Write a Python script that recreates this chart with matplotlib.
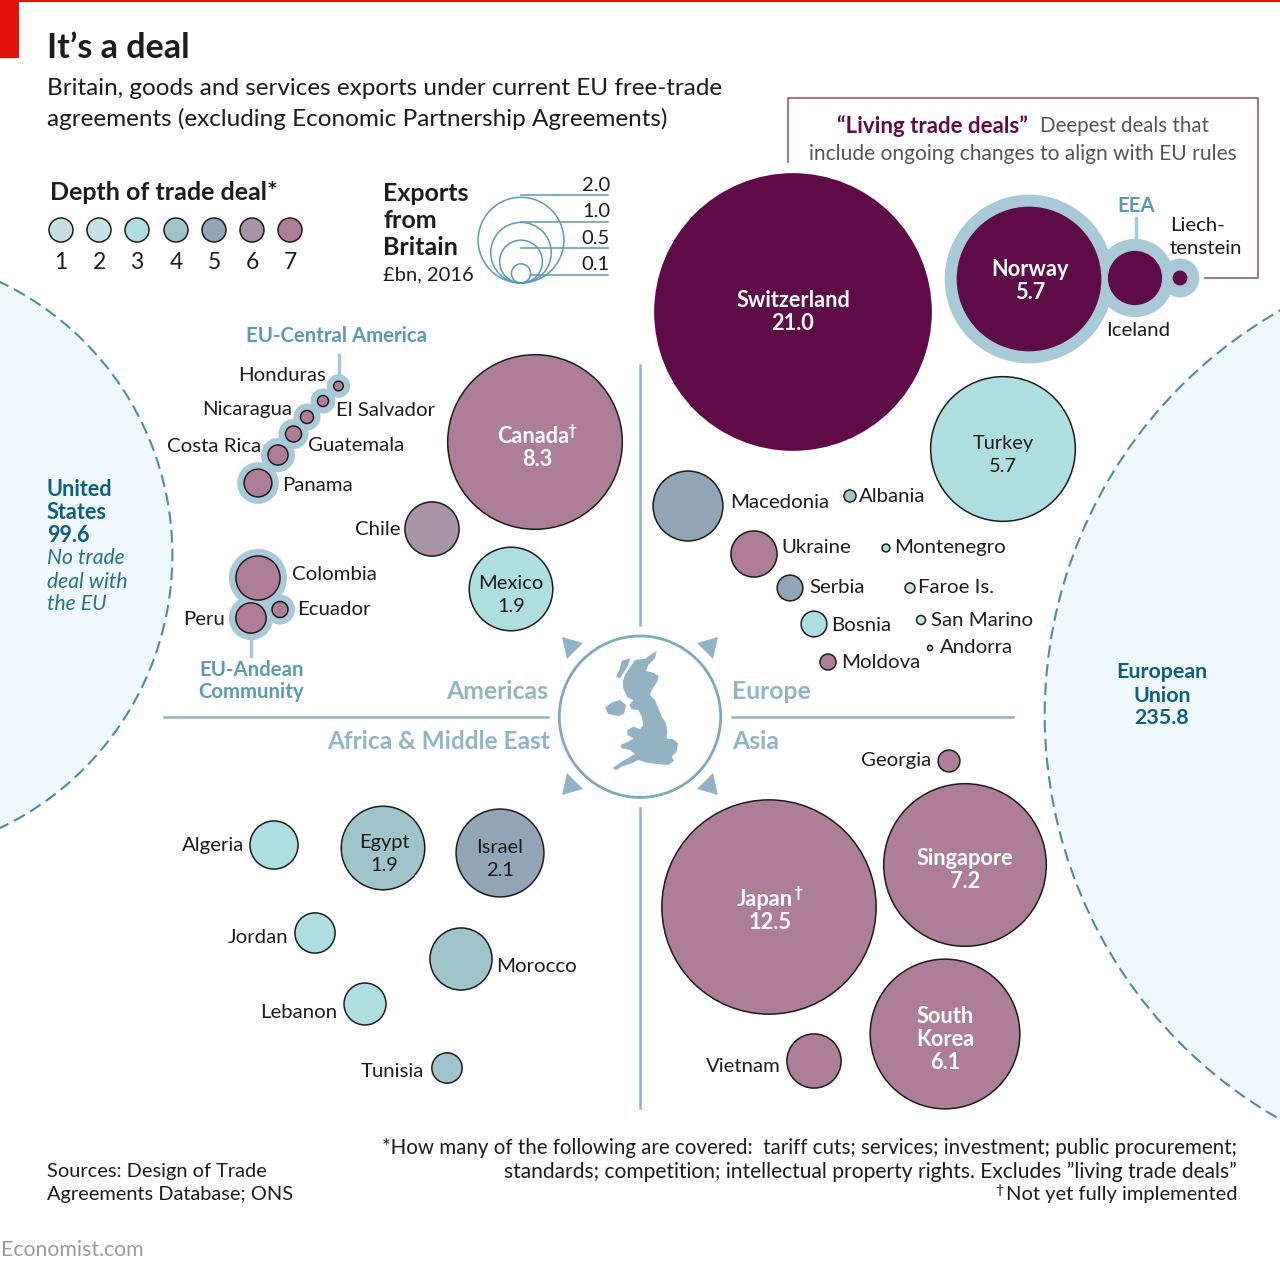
import numpy as np
import matplotlib
matplotlib.use("Agg")
import matplotlib.pyplot as plt
from matplotlib.patches import Circle, Polygon, Rectangle

plt.rcParams['font.family'] = ['Lato', 'DejaVu Sans']

# exports from Britain, GBP bn, 2016 (unlabelled ones)
americas = ["Canada", "Chile", "Mexico"]
americas_val = [8.3, 0.8, 1.9]
americas_depth = [7, 6, 3]

central_america = ["Honduras", "El Salvador", "Nicaragua", "Guatemala", "Costa Rica", "Panama"]
central_america_val = [0.025, 0.033, 0.046, 0.07, 0.11, 0.21]
central_america_depth = [7, 7, 7, 7, 7, 7]

andean = ["Colombia", "Peru", "Ecuador"]
andean_val = [0.53, 0.25, 0.07]
andean_depth = [7, 7, 7]

europe = ["Turkey", "Macedonia", "Albania", "Ukraine", "Montenegro", "Serbia",
          "Faroe Is.", "Bosnia", "San Marino", "Andorra", "Moldova"]
europe_val = [5.7, 1.33, 0.04, 0.58, 0.017, 0.18, 0.027, 0.18, 0.022, 0.007, 0.07]
europe_depth = [3, 5, 4, 7, 3, 5, 2, 3, 2, 2, 7]

asia = ["Georgia", "Japan", "Singapore", "South Korea", "Vietnam"]
asia_val = [0.13, 12.5, 7.2, 6.1, 0.8]
asia_depth = [7, 7, 7, 7, 7]

africa_me = ["Algeria", "Egypt", "Israel", "Jordan", "Morocco", "Lebanon", "Tunisia"]
africa_me_val = [0.63, 1.9, 2.1, 0.44, 1.05, 0.48, 0.25]
africa_me_depth = [3, 4, 5, 3, 4, 3, 4]

living = ["Switzerland", "Norway", "Iceland", "Liechtenstein"]
living_val = [21.0, 5.7, 0.8, 0.06]

no_deal_val = 99.6
eu_val = 235.8
legend_vals = [2.0, 1.0, 0.5, 0.1]
depth_levels = [1, 2, 3, 4, 5, 6, 7]

# layout, in reference pixels
pos = {
    "Canada": (535, 442), "Chile": (432, 529), "Mexico": (511, 589),
    "Honduras": (338.5, 386), "El Salvador": (323, 401), "Nicaragua": (307, 417),
    "Guatemala": (293.5, 434), "Costa Rica": (278, 455), "Panama": (258, 483),
    "Colombia": (258, 578), "Peru": (251, 618), "Ecuador": (280, 609.5),
    "Turkey": (1003, 449), "Macedonia": (688, 506), "Albania": (850, 496),
    "Ukraine": (754, 554), "Montenegro": (886, 548), "Serbia": (790, 588),
    "Faroe Is.": (910, 588), "Bosnia": (814, 624), "San Marino": (921, 620),
    "Andorra": (930, 648), "Moldova": (828, 662),
    "Georgia": (949, 761), "Japan": (769, 907), "Singapore": (965, 865),
    "South Korea": (945, 1034), "Vietnam": (814, 1061),
    "Algeria": (274, 845), "Egypt": (383, 848), "Israel": (500, 853),
    "Jordan": (315, 933), "Morocco": (461, 959), "Lebanon": (365, 1004), "Tunisia": (447, 1068),
    "Switzerland": (793, 312), "Norway": (1029, 279), "Iceland": (1135, 278), "Liechtenstein": (1180, 278),
}

depth_colors = {1: "#c6dfe3", 2: "#c5e3e4", 3: "#aedfe0", 4: "#9dc5cb",
                5: "#92a5b6", 6: "#a893a7", 7: "#ae7d97"}
PURPLE = "#5f0b47"
HALO = "#a8c9d8"
BLUE_LINE = "#8fb5c6"
TEAL = "#5b9ab5"
DARK_TEAL = "#0f5f80"
INK = "#1c1c1c"
K = 30.3  # px of radius per sqrt(GBP bn)


def rad(v):
    return K * np.sqrt(v)


fig = plt.figure(figsize=(12.8, 12.7), dpi=100)
ax = fig.add_axes([0, 0, 1, 1])
ax.set_xlim(0, 1280)
ax.set_ylim(1270, 0)
ax.axis("off")


def txt(x, y, s, size=14.7, color=INK, ha="left", weight="normal", style="normal", z=6):
    # +1.5 because va=center sits a little high against the reference
    ax.text(x, y + 1.5, s, fontsize=size, color=color, ha=ha, va="center",
            fontweight=weight, fontstyle=style, zorder=z)


def bubble(name, val, color, edge="#1c1c1c", lw=1.1):
    ax.add_patch(Circle(pos[name], rad(val), fc=color, ec=edge, lw=lw, zorder=4))


# header
ax.add_patch(Rectangle((0, 0), 1280, 2, fc="#e3120b", ec="none"))
ax.add_patch(Rectangle((0, 0), 19, 58, fc="#e3120b", ec="none"))
txt(47, 46, "It\u2019s a deal", size=24.5, weight="bold")
txt(47, 87, "Britain, goods and services exports under current EU free-trade", size=17.5)
txt(47, 117, "agreements (excluding Economic Partnership Agreements)", size=17.5)

# big neighbours
ax.add_patch(Circle((-130, 555), rad(no_deal_val), fc="#eff8fd", ec="#4f8ba6", lw=1.5, ls=(0, (6, 3))))
ax.add_patch(Circle((1510, 715), rad(eu_val), fc="#eff8fd", ec="#4f8ba6", lw=1.5, ls=(0, (6, 3))))
for y, s in zip([488, 511, 534], ["United", "States", "99.6"]):
    txt(47, y, s, size=15.6, color=DARK_TEAL, weight="bold")
for y, s in zip([557, 580, 603], ["No trade", "deal with", "the EU"]):
    txt(47, y, s, size=15.2, color="#2a7090", style="italic")
for y, s in zip([671, 694, 717], ["European", "Union", "235.8"]):
    txt(1162, y, s, size=15.4, color=DARK_TEAL, weight="bold", ha="center")

# depth legend
txt(50, 191, "Depth of trade deal*", size=18, weight="bold")
for lvl, x in zip(depth_levels, [61, 99, 137, 176, 214, 252, 290]):
    ax.add_patch(Circle((x, 230), 12, fc=depth_colors[lvl], ec="#1c1c1c", lw=1.1))
    txt(x, 261, str(lvl), size=16.5, ha="center")

# size legend
for y, s in zip([192, 219, 246], ["Exports", "from", "Britain"]):
    txt(383, y, s, size=18, weight="bold")
txt(383, 273, "\u00a3bn, 2016", size=14.5)
for v, ly, ty in zip(legend_vals, [195, 222, 248, 275], [184, 210, 237, 263]):
    r = rad(v)
    ax.add_patch(Circle((521, 283 - r), r, fc="none", ec="#5b9ab5", lw=1.1))
    ax.plot([521 if v > 0.1 else 530, 608], [ly, ly], color="#5b9ab5", lw=1.1)
    txt(610, ty, f"{v:.1f}", size=14.5, ha="right")

# living trade deals box
ax.plot([788, 788, 1258, 1258, 1205], [162, 98, 98, 278, 278], color="#8f5b7f", lw=1.2)
txt(837, 125, "\u201cLiving trade deals\u201d", size=16, color=PURPLE, weight="bold")
txt(1040, 125, "Deepest deals that", size=14.8, color="#555555")
txt(1237, 152, "include ongoing changes to align with EU rules", size=15.1, color="#555555", ha="right")

# quadrant lines
ax.plot([164, 548], [716.5, 716.5], color=BLUE_LINE, lw=1.8)
ax.plot([732, 1013], [716.5, 716.5], color=BLUE_LINE, lw=1.8)
ax.plot([640, 640], [365, 625], color=BLUE_LINE, lw=1.8)
ax.plot([640, 640], [808, 1108], color=BLUE_LINE, lw=1.8)
txt(548, 690, "Americas", size=17.8, color=BLUE_LINE, weight="bold", ha="right")
txt(732, 690, "Europe", size=17.8, color=BLUE_LINE, weight="bold")
txt(550, 740, "Africa & Middle East", size=17.6, color=BLUE_LINE, weight="bold", ha="right")
txt(732, 740, "Asia", size=17.8, color=BLUE_LINE, weight="bold")

# Britain in the middle
ax.add_patch(Circle((640, 716.7), 80.7, fc="white", ec="#7fa9bd", lw=2))
for pts in [[(562, 637), (583, 643), (567, 659)], [(718, 637), (697, 643), (713, 659)],
            [(562, 795), (583, 789), (567, 773)], [(718, 795), (697, 789), (713, 773)]]:
    ax.add_patch(Polygon(pts, fc="#92b3c4", ec="none"))
gb = [(285, 150), (300, 148), (318, 145), (330, 135), (350, 123), (345, 145), (325, 165), (318, 183), (340, 188),
      (356, 198), (352, 215), (335, 240), (330, 255), (345, 270), (355, 295), (365, 320), (378, 340),
      (382, 365), (380, 385), (400, 388), (414, 400), (410, 425), (395, 440), (402, 452), (385, 465),
      (350, 462), (320, 458), (295, 450), (275, 460), (250, 468), (228, 480), (218, 474), (240, 458),
      (262, 445), (285, 432), (270, 420), (245, 415), (242, 405), (265, 395), (280, 385), (262, 375),
      (262, 360), (280, 350), (300, 358), (310, 345), (305, 320), (295, 300), (275, 298), (268, 285),
      (280, 270), (262, 262), (250, 235), (248, 215), (255, 195), (268, 175)]
hebrides = [(245, 152), (272, 145), (262, 170), (240, 205), (228, 200), (240, 175)]
ireland = [(195, 293), (215, 278), (240, 270), (258, 285), (252, 312), (235, 318), (205, 312)]
for shape in [gb, hebrides, ireland]:
    ax.add_patch(Polygon([(540 + x / 3, 610 + y / 3) for x, y in shape], fc="#92b3c4", ec="none"))

# halos for the regional deals, under the bubbles
for names, vals, grow in [(central_america, central_america_val, 7),
                          (andean, andean_val, 7),
                          (living[1:], living_val[1:], 12)]:
    for n, v in zip(names, vals):
        ax.add_patch(Circle(pos[n], rad(v) + grow, fc=HALO, ec="none", zorder=2))
ax.plot([338.5, 338.5], [355, 380], color=HALO, lw=2.5, zorder=2)
ax.plot([251, 251], [636, 656], color=HALO, lw=2.5, zorder=2)
ax.plot([1135.5, 1135.5], [218, 245], color=HALO, lw=2.5, zorder=2)

# bubbles
for names, vals, depths in [(americas, americas_val, americas_depth),
                            (central_america, central_america_val, central_america_depth),
                            (andean, andean_val, andean_depth),
                            (europe, europe_val, europe_depth),
                            (asia, asia_val, asia_depth),
                            (africa_me, africa_me_val, africa_me_depth)]:
    for n, v, d in zip(names, vals, depths):
        bubble(n, v, depth_colors[d])
for n, v in zip(living, living_val):
    bubble(n, v, PURPLE, edge="none", lw=0)

# labels outside the bubbles
outside = [("EU-Central America", 337, 335, "center", TEAL), ("Honduras", 326, 374, "right", INK),
           ("Nicaragua", 292, 408, "right", INK), ("El Salvador", 336, 409, "left", INK),
           ("Costa Rica", 261, 445, "right", INK), ("Guatemala", 308, 444, "left", INK),
           ("Panama", 282, 484, "left", INK), ("Chile", 400, 528, "right", INK),
           ("Colombia", 292, 573, "left", INK), ("Ecuador", 297, 608, "left", INK),
           ("Peru", 225, 618, "right", INK), ("EU-Andean", 252, 668, "center", TEAL),
           ("Community", 251, 691, "center", TEAL),
           ("EEA", 1136, 205, "center", TEAL), ("Liech-", 1170, 224, "left", INK),
           ("tenstein", 1170, 247, "left", INK), ("Iceland", 1106, 329, "left", INK),
           ("Macedonia", 730, 501, "left", INK), ("Albania", 859, 495, "left", INK),
           ("Ukraine", 781, 546, "left", INK), ("Montenegro", 894, 546, "left", INK),
           ("Serbia", 809, 586, "left", INK), ("Faroe Is.", 918, 586, "left", INK),
           ("Bosnia", 831, 624, "left", INK), ("San Marino", 931, 619, "left", INK),
           ("Andorra", 940, 646, "left", INK), ("Moldova", 841, 661, "left", INK),
           ("Georgia", 931, 759, "right", INK), ("Vietnam", 781, 1065, "right", INK),
           ("Algeria", 244, 844, "right", INK), ("Jordan", 288, 936, "right", INK),
           ("Morocco", 496, 965, "left", INK), ("Lebanon", 337, 1011, "right", INK),
           ("Tunisia", 424, 1070, "right", INK)]
for s, x, y, ha, c in outside:
    txt(x, y, s, ha=ha, color=c, weight="bold" if c == TEAL else "normal")

# labels inside the bubbles
inside = [("Switzerland", "21.0", 793, 299, 322, "white", "bold"),
          ("Norway", "5.7", 1030, 268, 291, "white", "bold"),
          ("Canada", "8.3", 533, 435, 458, "white", "bold"),
          ("Japan", "12.5", 765, 898, 921, "white", "bold"),
          ("Singapore", "7.2", 965, 857, 880, "white", "bold"),
          ("Turkey", "5.7", 1003, 442, 465, INK, "normal"),
          ("Mexico", "1.9", 511, 582, 605, INK, "normal"),
          ("Egypt", "1.9", 384, 841, 864, INK, "normal"),
          ("Israel", "2.1", 500, 846, 869, INK, "normal")]
for a, b, x, y1, y2, c, w in inside:
    txt(x, y1, a, size=15.7 if w == "bold" else 14.4, color=c, ha="center", weight=w)
    num_x = 537 if a == "Canada" else 770 if a == "Japan" else x
    txt(num_x, y2, b, size=15.7 if w == "bold" else 14.4, color=c, ha="center", weight=w)
txt(572, 429, "\u2020", size=11, color="white", ha="center", weight="bold")
txt(798, 891, "\u2020", size=11, color="white", ha="center", weight="bold")
for s, y in zip(["South", "Korea", "6.1"], [1015, 1038, 1061]):
    txt(945, y, s, size=15.7, color="white", ha="center", weight="bold")

# footer
txt(47, 1170, "Sources: Design of Trade", size=14.4)
txt(47, 1193, "Agreements Database; ONS", size=14.4)
txt(1237, 1146, "*How many of the following are covered:  tariff cuts; services; investment; public procurement;", size=14.8, ha="right")
txt(1237, 1170, "standards; competition; intellectual property rights. Excludes \u201dliving trade deals\u201d", size=15.1, ha="right")
txt(1237, 1193, "Not yet fully implemented", size=14.5, ha="right")
txt(999, 1188, "\u2020", size=10, ha="center")
txt(1, 1248, "Economist.com", size=15.3, color="#9a9a9a")

fig.savefig("out.png", dpi=100, facecolor="white")
